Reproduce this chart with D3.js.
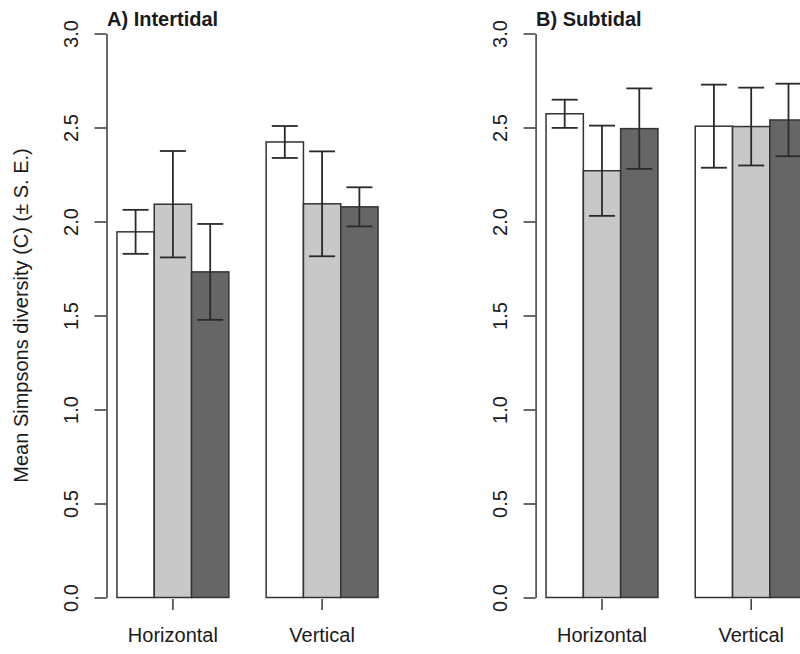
<!DOCTYPE html>
<html>
<head>
<meta charset="utf-8">
<script src="https://cdn.jsdelivr.net/npm/d3@7/dist/d3.min.js"></script>
<style>
  body { margin: 0; background: #fff; }
  text { font-family: "Liberation Sans", Arial, sans-serif; fill: #1a1a1a; }
</style>
</head>
<body>
<div id="container"></div>
<script>
// Data
var categories = ['Horizontal', 'Vertical'];
var panelTitles = ['A) Intertidal', 'B) Subtidal'];
var yTicks = [0, 0.5, 1, 1.5, 2, 2.5, 3];
var barFills = ['#ffffff', '#c8c8c8', '#666666'];

// means per category (3 bars each), and standard errors
var intertidalMean = [[1.945, 2.092, 1.732], [2.423, 2.094, 2.078]];
var intertidalSE   = [[0.117, 0.283, 0.255], [0.085, 0.279, 0.104]];
var subtidalMean   = [[2.573, 2.270, 2.494], [2.507, 2.505, 2.540]];
var subtidalSE     = [[0.075, 0.240, 0.214], [0.221, 0.207, 0.193]];

var WIDTH = 800,
    HEIGHT = 654;

var svg = d3.select('#container')
    .append('svg')
    .attr('width', WIDTH)
    .attr('height', HEIGHT);

var y = d3.scaleLinear().domain([0, 3]).range([597.5, 33.5]);

// axis title
svg.append('text')
    .attr('transform', 'translate(28,' + y(1.5) + ') rotate(-90)')
    .attr('text-anchor', 'middle')
    .style('font-size', '20px')
    .text('Mean Simpsons diversity (C) (\u00b1 S. E.)');

var drawPanel = function(axisX, title, means, ses) {

    // bar units like R barplot: space 1 before each group, 4% padding
    var x = d3.scaleLinear().domain([0.72, 8.28]).range([axisX, axisX + 7.56 * 37.3]);
    var w = x(1) - x(0);

    var g = svg.append('g');

    // y axis
    var yAxis = g.append('g')
        .attr('transform', 'translate(' + axisX + ',0)')
        .call(d3.axisLeft(y).tickValues(yTicks).tickSize(12).tickSizeOuter(0)
            .tickFormat(d3.format('.1f')));
    yAxis.select('.domain').attr('stroke', '#444').attr('stroke-width', 1.6);
    yAxis.selectAll('.tick line').attr('stroke', '#444').attr('stroke-width', 1.6);
    yAxis.selectAll('.tick text')
        .attr('x', null).attr('dy', null)
        .attr('transform', 'translate(-29,0) rotate(-90)')
        .attr('text-anchor', 'middle')
        .attr('fill', '#1a1a1a')
        .style('font-size', '20px')
        .style('font-family', '"Liberation Sans", Arial, sans-serif');

    // title
    g.append('text')
        .attr('x', axisX + 0.5)
        .attr('y', 25.5)
        .style('font-size', '20px')
        .style('font-weight', 'bold')
        .text(title);

    var bars = [];
    means.forEach(function(row, gi) {
        row.forEach(function(m, bi) {
            bars.push({ u: 1 + gi * 4 + bi, m: m, se: ses[gi][bi], k: bi });
        });
    });

    g.selectAll('.bar')
        .data(bars)
        .enter()
        .append('rect')
        .attr('class', 'bar')
        .attr('x', function(d) { return x(d.u); })
        .attr('y', function(d) { return y(d.m); })
        .attr('width', w)
        .attr('height', function(d) { return y(0) - y(d.m); })
        .attr('fill', function(d) { return barFills[d.k]; })
        .attr('stroke', '#333')
        .attr('stroke-width', 1.5);

    // error bars
    var eb = g.selectAll('.err')
        .data(bars)
        .enter()
        .append('g')
        .attr('class', 'err')
        .attr('stroke', '#2a2a2a')
        .attr('stroke-width', 1.8);
    eb.append('line')
        .attr('x1', function(d) { return x(d.u + 0.5); })
        .attr('x2', function(d) { return x(d.u + 0.5); })
        .attr('y1', function(d) { return y(d.m + d.se); })
        .attr('y2', function(d) { return y(d.m - d.se); });
    [1, -1].forEach(function(s) {
        eb.append('line')
            .attr('x1', function(d) { return x(d.u + 0.5) - 13; })
            .attr('x2', function(d) { return x(d.u + 0.5) + 13; })
            .attr('y1', function(d) { return y(d.m + s * d.se); })
            .attr('y2', function(d) { return y(d.m + s * d.se); });
    });

    // category ticks and labels
    categories.forEach(function(c, gi) {
        var cx = x(1 + gi * 4 + 1.5);
        g.append('line')
            .attr('x1', cx).attr('x2', cx)
            .attr('y1', 599).attr('y2', 610)
            .attr('stroke', '#444')
            .attr('stroke-width', 1.6);
        g.append('text')
            .attr('x', cx)
            .attr('y', 642)
            .attr('text-anchor', 'middle')
            .style('font-size', '20px')
            .text(c);
    });
}

drawPanel(106.5, panelTitles[0], intertidalMean, intertidalSE);
drawPanel(535.6, panelTitles[1], subtidalMean, subtidalSE);
</script>
</body>
</html>
